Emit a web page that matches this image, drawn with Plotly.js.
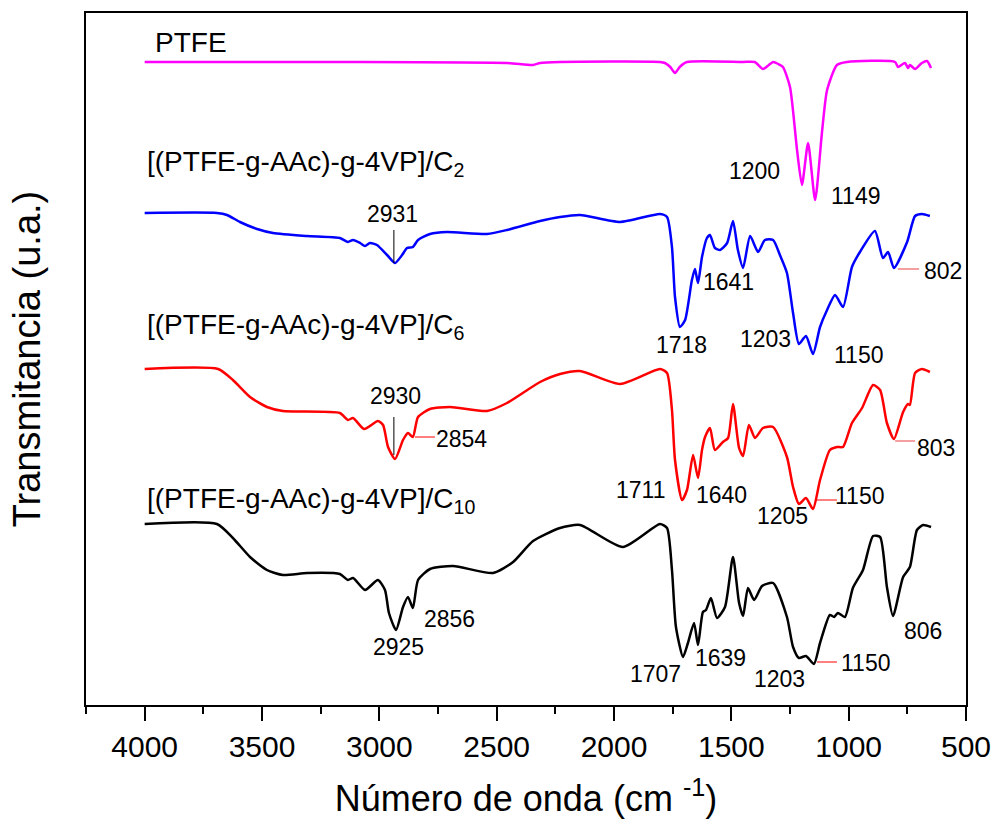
<!DOCTYPE html>
<html>
<head>
<meta charset="utf-8">
<script src="https://cdn.plot.ly/plotly-3.0.1.min.js"></script>
<style>html,body{margin:0;padding:0;background:#fff;}#chart{width:995px;height:824px;}</style>
</head>
<body>
<div id="chart"></div>
<script>
// Wavenumbers (cm-1) and offset transmittance (a.u.)
const ptfeWn = [4000,3764,3168,2456,2345,2315,2230,1804,1783,1760,1740,1720,1689,1450,1400,1365,1340,1322,1300,1280,1250,1220,1199,1173,1143,1114,1092,1050,1007,802,790,760,747,739,717,688,666,649];
const ptfeT  = [643,643,643,642,640,642,643,643,642,638,632,638,643,643,643,636,640,643,641,638,618,555,520,562,505,572,615,640,643,643,638,642,637,640,636,642,644,637];

const c2Wn = [4000,3692,3649,3594,3521,3453,3308,3168,3134,3112,3082,3061,3040,3010,2967,2933,2903,2882,2857,2835,2784,2712,2541,2456,2315,2230,2145,1974,1804,1774,1753,1740,1719,1697,1668,1655,1642,1625,1604,1591,1570,1548,1518,1493,1472,1450,1420,1386,1357,1322,1293,1263,1237,1212,1182,1152,1122,1092,1058,1024,986,952,888,854,832,807,751,717,688,654];
const c2T  = [492,492,490,483,476,472,469,467,463,465,462,459,462,460,450,442,450,457,458,465,471,473,471,475,484,488,490,483,491,488,458,408,378,385,425,436,422,448,467,470,457,455,462,484,455,437,469,453,465,465,450,432,392,361,369,351,378,395,410,398,438,453,474,447,453,437,463,489,491,489];

const c6Wn = [4000,3687,3624,3551,3479,3411,3168,3134,3112,3065,3006,2984,2963,2933,2899,2878,2857,2835,2784,2699,2541,2456,2315,2230,2145,1974,1804,1774,1753,1740,1710,1689,1663,1642,1625,1612,1591,1570,1536,1514,1493,1467,1450,1425,1399,1365,1322,1263,1237,1212,1182,1152,1122,1080,1050,1024,986,943,896,866,837,807,768,747,739,717,688,654];
const c6T  = [336,336,325,308,298,294,292,285,287,276,284,280,258,246,265,272,268,288,296,298,294,302,323,331,334,321,336,332,295,245,205,215,250,227,255,268,277,255,263,267,301,257,249,280,267,277,278,248,218,201,207,196,225,255,258,258,282,297,320,315,282,266,293,301,300,332,336,333];

const c10Wn = [4000,3692,3624,3551,3479,3411,3308,3168,3134,3112,3061,3006,2976,2959,2929,2899,2878,2857,2835,2784,2686,2516,2430,2345,2230,2145,1962,1804,1774,1753,1736,1706,1685,1659,1642,1621,1608,1587,1561,1527,1493,1467,1450,1429,1403,1369,1322,1263,1237,1212,1182,1148,1122,1080,1062,1046,1016,982,939,896,866,837,811,768,739,709,683,649];
const c10T  = [181,181,167,148,135,130,132,131,125,127,115,125,115,92,75,98,108,97,125,136,139,132,143,164,177,180,158,181,177,135,78,48,62,82,60,93,95,107,87,98,148,102,89,117,105,119,122,88,58,47,49,41,62,90,88,92,88,117,135,169,168,118,89,128,138,175,180,178];

const seriesNames = ["PTFE", "[(PTFE-g-AAc)-g-4VP]/C<sub>2</sub>", "[(PTFE-g-AAc)-g-4VP]/C<sub>6</sub>", "[(PTFE-g-AAc)-g-4VP]/C<sub>10</sub>"];
const seriesColors = ["#ff00ff", "#0000ff", "#ff0000", "#000000"];

// Peak labels
const peakText = ["1200","1149","2931","1641","1718","1203","1150","802","2930","2854","1711","1640","1205","1150","803","2925","2856","1707","1639","1203","1150","806"];
const xTickVals = [4000,3500,3000,2500,2000,1500,1000,500];

const font = "Arial, 'Liberation Sans', sans-serif";
const wnSets = [ptfeWn, c2Wn, c6Wn, c10Wn];
const tSets = [ptfeT, c2T, c6T, c10T];
const traces = wnSets.map((wn, i) => ({
  x: wn, y: tSets[i], type: "scatter", mode: "lines",
  line: {color: seriesColors[i], width: 2.5, shape: "spline", smoothing: 0.6},
  name: seriesNames[i], hoverinfo: "x+y"
}));

// label anchor positions (layout, not data)
const peakPos = [
  [1403,534],[969,509],[2942,491],[1514,423],[1714,360],[1356,366],[960,350],[598,434],
  [2933,309],[2652,266],[1885,215],[1540,210],[1280,189],[952,209],[628,257],
  [2920,58],[2699,86],[1825,31],[1548,47],[1293,26],[930,42],[683,74]
];
const annotations = peakText.map((t, i) => ({
  text: t, x: peakPos[i][0], y: peakPos[i][1], xref: "x", yref: "y",
  showarrow: false, xanchor: "center", yanchor: "middle",
  font: {family: font, size: 23, color: "#000"}
}));
const nameY = [663, 542, 379, 205];
const nameX = [3964, 4000, 4000, 4000];
seriesNames.forEach((n, i) => annotations.push({
  text: n, x: nameX[i], y: nameY[i], xref: "x", yref: "y", showarrow: false,
  xanchor: "left", yanchor: "middle", font: {family: font, size: 28, color: "#000"}
}));

const shapes = [
  {type: "line", xref: "x", yref: "y", x0: 2938, x1: 2938, y0: 475, y1: 442, line: {color: "#000", width: 1}},
  {type: "line", xref: "x", yref: "y", x0: 2938, x1: 2938, y0: 288, y1: 250, line: {color: "#000", width: 1}},
  {type: "line", xref: "x", yref: "y", x0: 790, x1: 700, y0: 436, y1: 436, line: {color: "#f08080", width: 1.5}},
  {type: "line", xref: "x", yref: "y", x0: 2848, x1: 2763, y0: 268, y1: 268, line: {color: "#ff0000", width: 1}},
  {type: "line", xref: "x", yref: "y", x0: 1139, x1: 1050, y0: 205, y1: 205, line: {color: "#ff0000", width: 1}},
  {type: "line", xref: "x", yref: "y", x0: 802, x1: 717, y0: 264, y1: 264, line: {color: "#f08080", width: 1.5}},
  {type: "line", xref: "x", yref: "y", x0: 1135, x1: 1050, y0: 43, y1: 43, line: {color: "#ff0000", width: 1}}
];

const layout = {
  width: 995, height: 824,
  margin: {l: 86, r: 29, t: 13, b: 119},
  paper_bgcolor: "#fff", plot_bgcolor: "#fff",
  showlegend: false,
  font: {family: font, color: "#000"},
  xaxis: {
    range: [4250, 500], tickvals: xTickVals, ticktext: xTickVals.map(String),
    ticks: "outside", ticklen: 14, tickwidth: 2, tickcolor: "#000",
    minor: {dtick: 250, tick0: 0, ticks: "outside", ticklen: 7, tickwidth: 2, tickcolor: "#000"},
    showline: true, linewidth: 2, linecolor: "#000", mirror: true,
    showgrid: false, zeroline: false,
    tickfont: {family: font, size: 30, color: "#000"},
    title: {text: "Número de onda (cm <sup>-1</sup>)", font: {family: font, size: 36, color: "#000"}, standoff: 24}
  },
  yaxis: {
    range: [0, 692], showticklabels: false, ticks: "",
    showline: true, linewidth: 2, linecolor: "#000", mirror: true,
    showgrid: false, zeroline: false,
    title: {text: "Transmitancia (u.a.)", font: {family: font, size: 38, color: "#000"}, standoff: 32}
  },
  annotations: annotations,
  shapes: shapes
};

Plotly.newPlot("chart", traces, layout, {displayModeBar: false, staticPlot: true});
</script>
</body>
</html>
